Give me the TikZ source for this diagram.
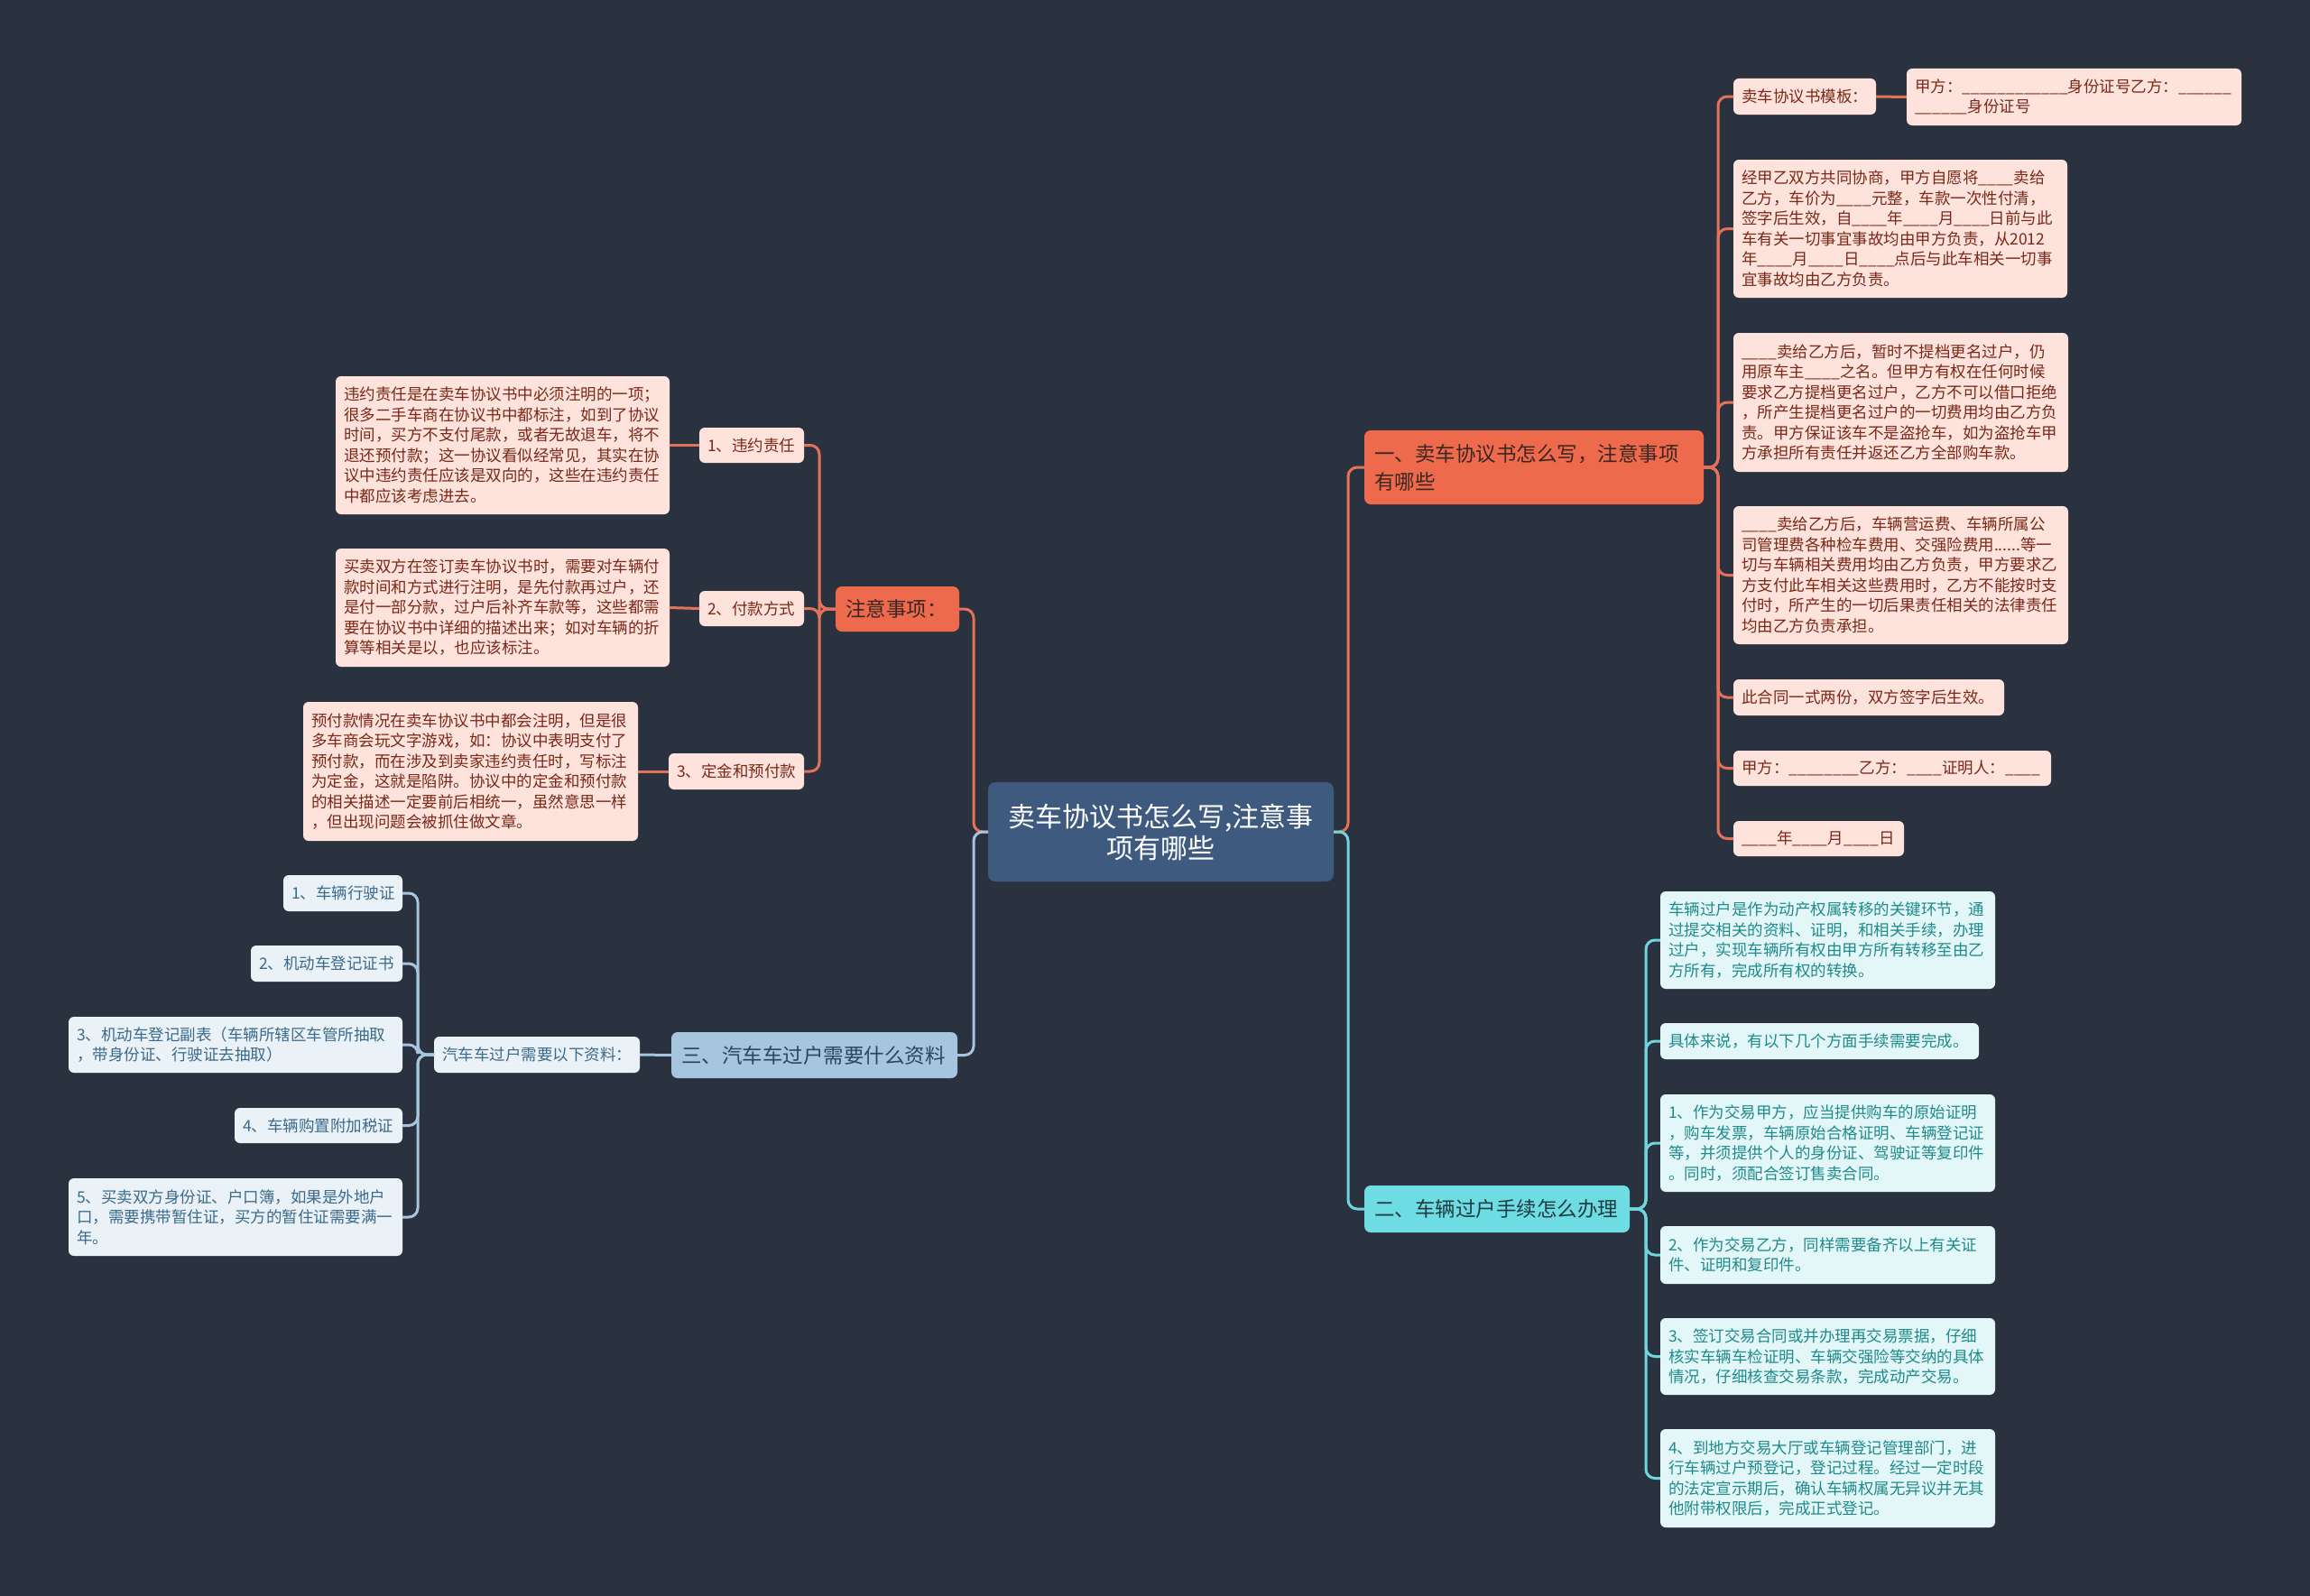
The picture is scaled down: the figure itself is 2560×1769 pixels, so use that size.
\documentclass[tikz,border=0pt]{standalone}
\usepackage{fontspec}
\newfontfamily\cjk{Noto Sans CJK SC}
\definecolor{bg}{HTML}{2A3240}
\definecolor{cenf}{HTML}{3F5A7F}
\definecolor{orf}{HTML}{EE6A4C}
\definecolor{ort}{HTML}{3A2622}
\definecolor{orl}{HTML}{E4715A}
\definecolor{pkf}{HTML}{FDE3DC}
\definecolor{pkt}{HTML}{7A2818}
\definecolor{cyf}{HTML}{6EDDE3}
\definecolor{cyt}{HTML}{1F3A40}
\definecolor{cyl}{HTML}{6FD6DE}
\definecolor{lcf}{HTML}{E3F7F8}
\definecolor{lct}{HTML}{1F8A8C}
\definecolor{blf}{HTML}{A6C5DE}
\definecolor{blt}{HTML}{29485F}
\definecolor{bll}{HTML}{A6C5DE}
\definecolor{lbf}{HTML}{EAF2F8}
\definecolor{lbt}{HTML}{3B6A8A}
\tikzset{
  base/.style={anchor=north west, rounded corners=6pt, inner xsep=9pt, inner ysep=0pt, outer sep=0pt, align=left, font=\cjk\fontsize{17.5}{22.5}\selectfont},
  pk/.style={base, fill=pkf, text=pkt},
  lc/.style={base, fill=lcf, text=lct},
  lb/.style={base, fill=lbf, text=lbt},
  mainbox/.style={anchor=north west, rounded corners=7pt, inner xsep=11pt, inner ysep=0pt, outer sep=0pt, align=left, font=\cjk\fontsize{22.5}{31}\selectfont},
  ormain/.style={mainbox, fill=orf, text=ort},
  cymain/.style={mainbox, fill=cyf, text=cyt},
  blmain/.style={mainbox, fill=blf, text=blt},
  con/.style={line width=3pt, rounded corners=10pt},
  ocon/.style={con, draw=orl},
  ccon/.style={con, draw=cyl},
  bcon/.style={con, draw=bll},
}
\begin{document}
\begin{tikzpicture}[x=1pt,y=-1pt]
\useasboundingbox (0,0) rectangle (2560,1769);
\fill[bg] (0,0) rectangle (2560,1769);

% center
\node[anchor=north west, rounded corners=8pt, fill=cenf, text=white, align=center, inner sep=0pt, outer sep=0pt,
  minimum width=383pt, minimum height=110pt, font=\cjk\fontsize{30}{35}\selectfont] (c) at (1095,867)
  {卖车协议书怎么写,注意事\\项有哪些};

% main branches
\node[ormain, minimum width=376pt, minimum height=82pt, text width=354pt] (m1) at (1512,477)
  {一、卖车协议书怎么写，注意事项\\有哪些};
\node[cymain, minimum width=294pt, minimum height=52pt, text width=272pt] (m2) at (1512,1314)
  {二、车辆过户手续怎么办理};
\node[ormain, minimum width=137pt, minimum height=50pt, text width=115pt] (att) at (926,650)
  {注意事项：};
\node[blmain, minimum width=317pt, minimum height=51pt, text width=295pt] (m3) at (744,1144)
  {三、汽车车过户需要什么资料};

% branch 1 children
\node[pk, minimum width=158pt, minimum height=40pt, text width=140pt] (a1) at (1921,87) {卖车协议书模板：};
\node[pk, minimum width=371pt, minimum height=63pt, text width=353pt] (a1c) at (2113,76)
  {甲方：\_\_\_\_\_\_\_\_\_\_\_\_身份证号乙方：\_\_\_\_\_\_\\\_\_\_\_\_\_身份证号};
\node[pk, minimum width=370pt, minimum height=153pt, text width=352pt] (a2) at (1921,177)
  {经甲乙双方共同协商，甲方自愿将\_\_\_\_卖给\\乙方，车价为\_\_\_\_元整，车款一次性付清，\\签字后生效，自\_\_\_\_年\_\_\_\_月\_\_\_\_日前与此\\车有关一切事宜事故均由甲方负责，从2012\\年\_\_\_\_月\_\_\_\_日\_\_\_\_点后与此车相关一切事\\宜事故均由乙方负责。};
\node[pk, minimum width=371pt, minimum height=154pt, text width=353pt] (a3) at (1921,369)
  {\_\_\_\_卖给乙方后，暂时不提档更名过户，仍\\用原车主\_\_\_\_之名。但甲方有权在任何时候\\要求乙方提档更名过户，乙方不可以借口拒绝\\，所产生提档更名过户的一切费用均由乙方负\\责。甲方保证该车不是盗抢车，如为盗抢车甲\\方承担所有责任并返还乙方全部购车款。};
\node[pk, minimum width=371pt, minimum height=153pt, text width=353pt] (a4) at (1921,561)
  {\_\_\_\_卖给乙方后，车辆营运费、车辆所属公\\司管理费各种检车费用、交强险费用......等一\\切与车辆相关费用均由乙方负责，甲方要求乙\\方支付此车相关这些费用时，乙方不能按时支\\付时，所产生的一切后果责任相关的法律责任\\均由乙方负责承担。};
\node[pk, minimum width=300pt, minimum height=40pt, text width=282pt] (a5) at (1921,753)
  {此合同一式两份，双方签字后生效。};
\node[pk, minimum width=352pt, minimum height=39pt, text width=334pt] (a6) at (1921,832)
  {甲方：\_\_\_\_\_\_\_\_乙方：\_\_\_\_证明人：\_\_\_\_};
\node[pk, minimum width=189pt, minimum height=39pt, text width=171pt] (a7) at (1921,910)
  {\_\_\_\_年\_\_\_\_月\_\_\_\_日};

% branch 2 children
\node[lc, minimum width=371pt, minimum height=108pt, text width=353pt] (b1) at (1840,988)
  {车辆过户是作为动产权属转移的关键环节，通\\过提交相关的资料、证明，和相关手续，办理\\过户，实现车辆所有权由甲方所有转移至由乙\\方所有，完成所有权的转换。};
\node[lc, minimum width=353pt, minimum height=40pt, text width=335pt] (b2) at (1840,1134)
  {具体来说，有以下几个方面手续需要完成。};
\node[lc, minimum width=371pt, minimum height=108pt, text width=353pt] (b3) at (1840,1213)
  {1、作为交易甲方，应当提供购车的原始证明\\，购车发票，车辆原始合格证明、车辆登记证\\等，并须提供个人的身份证、驾驶证等复印件\\。同时，须配合签订售卖合同。};
\node[lc, minimum width=371pt, minimum height=64pt, text width=353pt] (b4) at (1840,1359)
  {2、作为交易乙方，同样需要备齐以上有关证\\件、证明和复印件。};
\node[lc, minimum width=371pt, minimum height=85pt, text width=353pt] (b5) at (1840,1461)
  {3、签订交易合同或并办理再交易票据，仔细\\核实车辆车检证明、车辆交强险等交纳的具体\\情况，仔细核查交易条款，完成动产交易。};
\node[lc, minimum width=371pt, minimum height=109pt, text width=353pt] (b6) at (1840,1584)
  {4、到地方交易大厅或车辆登记管理部门，进\\行车辆过户预登记，登记过程。经过一定时段\\的法定宣示期后，确认车辆权属无异议并无其\\他附带权限后，完成正式登记。};

% attention children
\node[pk, minimum width=116pt, minimum height=39pt, text width=98pt] (l1) at (775,474) {1、违约责任};
\node[pk, minimum width=116pt, minimum height=39pt, text width=98pt] (l2) at (775,655) {2、付款方式};
\node[pk, minimum width=150pt, minimum height=40pt, text width=132pt] (l3) at (741,835) {3、定金和预付款};
\node[pk, minimum width=370pt, minimum height=153pt, text width=352pt] (d1) at (372,417)
  {违约责任是在卖车协议书中必须注明的一项；\\很多二手车商在协议书中都标注，如到了协议\\时间，买方不支付尾款，或者无故退车，将不\\退还预付款；这一协议看似经常见，其实在协\\议中违约责任应该是双向的，这些在违约责任\\中都应该考虑进去。};
\node[pk, minimum width=370pt, minimum height=131pt, text width=352pt] (d2) at (372,608)
  {买卖双方在签订卖车协议书时，需要对车辆付\\款时间和方式进行注明，是先付款再过户，还\\是付一部分款，过户后补齐车款等，这些都需\\要在协议书中详细的描述出来；如对车辆的折\\算等相关是以，也应该标注。};
\node[pk, minimum width=371pt, minimum height=154pt, text width=353pt] (d3) at (336,778)
  {预付款情况在卖车协议书中都会注明，但是很\\多车商会玩文字游戏，如：协议中表明支付了\\预付款，而在涉及到卖家违约责任时，写标注\\为定金，这就是陷阱。协议中的定金和预付款\\的相关描述一定要前后相统一，虽然意思一样\\，但出现问题会被抓住做文章。};

% branch 3 children
\node[lb, minimum width=228pt, minimum height=40pt, text width=210pt] (n0) at (481,1149) {汽车车过户需要以下资料：};
\node[lb, minimum width=132pt, minimum height=40pt, text width=114pt] (n1) at (314,970) {1、车辆行驶证};
\node[lb, minimum width=168pt, minimum height=40pt, text width=150pt] (n2) at (278,1048) {2、机动车登记证书};
\node[lb, minimum width=370pt, minimum height=62pt, text width=352pt] (n3) at (76,1127)
  {3、机动车登记副表（车辆所辖区车管所抽取\\，带身份证、行驶证去抽取）};
\node[lb, minimum width=186pt, minimum height=39pt, text width=168pt] (n4) at (260,1228) {4、车辆购置附加税证};
\node[lb, minimum width=370pt, minimum height=86pt, text width=352pt] (n5) at (76,1306)
  {5、买卖双方身份证、户口簿，如果是外地户\\口，需要携带暂住证，买方的暂住证需要满一\\年。};

% connectors: center
\draw[ocon] (c.east) -| ([xshift=-18pt]m1.west) -- (m1.west);
\draw[ccon] (c.east) -| ([xshift=-18pt]m2.west) -- (m2.west);
\draw[ocon] (c.west) -| ([xshift=16pt]att.east) -- (att.east);
\draw[bcon] (c.west) -| ([xshift=18pt]m3.east) -- (m3.east);

% branch 1
\foreach \k in {a1,a2,a3,a4,a5,a6,a7}{
  \draw[ocon] (m1.east) -| ([xshift=-17pt]\k.west) -- (\k.west);
}
\draw[ocon] (a1.east) -- (a1c.west);

% branch 2
\foreach \k in {b1,b2,b3,b4,b5,b6}{
  \draw[ccon] (m2.east) -| ([xshift=-16pt]\k.west) -- (\k.west);
}

% attention
\foreach \k in {l1,l2,l3}{
  \draw[ocon] (att.west) -| ([xshift=17pt]\k.east) -- (\k.east);
}
\draw[ocon] (l1.west) -- (d1.east);
\draw[ocon] (l2.west) -- (d2.east);
\draw[ocon] (l3.west) -- (d3.east);

% branch 3
\draw[bcon] (m3.west) -- (n0.east);
\foreach \k in {n1,n2,n3,n4,n5}{
  \draw[bcon] (n0.west) -| ([xshift=17pt]\k.east) -- (\k.east);
}
\end{tikzpicture}
\end{document}
